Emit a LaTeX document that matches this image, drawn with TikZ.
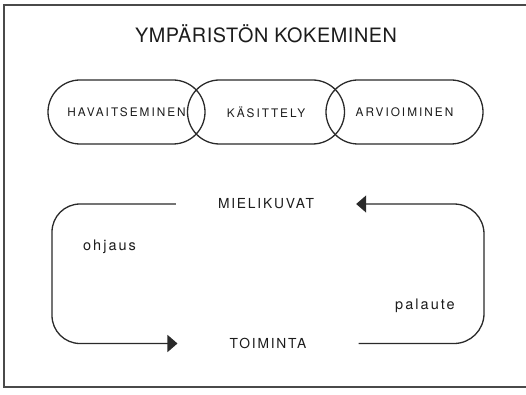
\documentclass[tikz,border=0pt]{standalone}
\usepackage{fontspec}
\setmainfont{TeX Gyre Heros}
\usetikzlibrary{arrows.meta}
\definecolor{ink}{HTML}{2A2A2A}
\definecolor{textink}{HTML}{1C1C1C}
\tikzset{
  every node/.style={text=textink, inner sep=0pt},
  line/.style={draw=ink, line width=1.3pt},
  oval/.style={line, minimum width=157pt, minimum height=64pt, rounded corners=32pt,
    font=\fontsize{11.8}{13}\selectfont\addfontfeatures{LetterSpace=17}},
  loopword/.style={font=\fontsize{13.8}{15}\selectfont\addfontfeatures{LetterSpace=13}},
  sideword/.style={font=\fontsize{14.5}{16}\selectfont\addfontfeatures{LetterSpace=14}},
  tip/.style={-{Triangle[length=10pt,width=17pt]}},
}
\begin{document}
\begin{tikzpicture}[x=1pt,y=-1pt]
\useasboundingbox (0,0) rectangle (526,395);
% frame (right edge lies outside the picture)
\draw[draw=ink!85, line width=1.5pt] (532,5) -- (4,5) -- (4,387) -- (532,387);

\node (title) at (266,34) {\fontsize{19.8}{22}\selectfont\addfontfeatures{LetterSpace=3}YMPÄRISTÖN KOKEMINEN};

\node[oval] (hav) at (126.5,112) {HAVAITSEMINEN};
\node[oval] (kas) at (266,112) {KÄSITTELY};
\node[oval] (arv) at (404.5,112) {ARVIOIMINEN};

\node[loopword, inner xsep=42pt] (mie) at (266,204) {MIELIKUVAT};
\node[loopword, inner xsep=52pt] (toi) at (268,343.5) {TOIMINTA};

\coordinate (L) at (52,0);
\coordinate (R) at (484,0);

\draw[line, tip, rounded corners=28pt] (mie.west) -- (mie.west -| L) -- (toi.west -| L) -- (toi.west);
\draw[line, tip, rounded corners=30pt] (toi.east) -- (toi.east -| R) -- (mie.east -| R) -- (mie.east);

\node[sideword] (ohj) at (109.5,247) {ohjaus};
\node[sideword] (pal) at (425,306) {palaute};
\end{tikzpicture}
\end{document}
